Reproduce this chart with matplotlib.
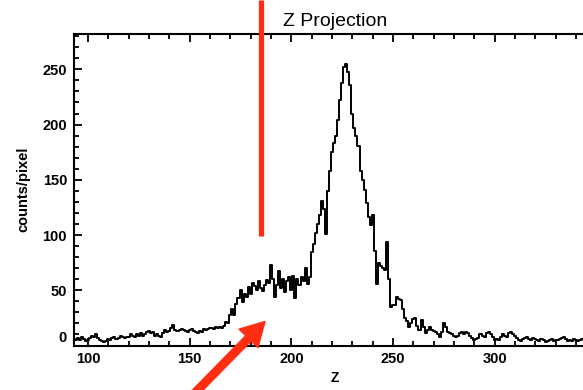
import numpy as np
import matplotlib
matplotlib.use("Agg")
import matplotlib.pyplot as plt
from matplotlib.lines import Line2D

# counts per pixel, one bin per unit of Z starting at z = 93
z_start = 93
counts = [
    6, 5, 7, 5, 8, 6, 4, 5,                      # 93-100
    7, 9, 8, 10, 7, 5, 4, 3, 4, 6,               # 101-110
    5, 7, 8, 6, 7, 9, 8, 7, 8, 8,
    10, 9, 8, 10, 9, 11, 9, 10, 12, 13,
    11, 12, 9, 10, 9, 8, 11, 14, 12, 13,
    16, 19, 14, 13, 14, 15, 14, 13, 12, 14,      # 141-150
    15, 13, 12, 11, 13, 12, 15, 14, 15, 16,
    16, 15, 17, 16, 17, 16, 18, 21, 20, 28,
    33, 28, 38, 43, 50, 39, 47, 44, 53, 47,
    57, 54, 50, 58, 52, 49, 55, 59, 57, 73,
    60, 44, 55, 67, 52, 60, 48, 58, 62, 50,      # 191-200
    63, 43, 60, 55, 62, 58, 70, 56, 62, 85,
    92, 102, 110, 118, 131, 124, 101, 140, 158, 175,
    183, 190, 204, 222, 238, 252, 255, 248, 236, 210,
    197, 190, 181, 158, 150, 141, 129, 116, 109, 118,
    86, 56, 75, 72, 70, 68, 94, 60, 35, 37,      # 241-250
    37, 44, 42, 41, 33, 25, 22, 17, 20, 24,
    25, 18, 14, 23, 17, 11, 14, 17, 14, 13,
    12, 10, 8, 12, 20, 17, 12, 11, 10, 9,
    8, 9, 11, 12, 10, 12, 11, 9, 7, 5,
    6, 7, 10, 9, 8, 11, 12, 10, 8, 5,            # 291-300
    6, 5, 8, 10, 9, 8, 11, 12, 10, 9,
    7, 5, 4, 6, 7, 8, 6, 5, 7, 6,
    5, 4, 6, 5, 3, 4, 5, 6, 4, 5,
    5, 6, 7, 8, 6, 4, 5, 4, 6, 5,
    4, 5, 6, 5, 5,                               # 341-345
]
z = np.arange(z_start, z_start + len(counts))

xticks = [100, 150, 200, 250, 300]
yticks = [0, 50, 100, 150, 200, 250]

plt.rcParams['font.family'] = ['Liberation Sans', 'DejaVu Sans']
red = '#ff2e12'

fig = plt.figure(figsize=(5.83, 3.90), dpi=100)
W, H = 583, 390
# axes runs a little past the right edge, like the scanned page
ax = fig.add_axes([74 / W, 1 - 345.5 / H, (596 - 74) / W, (345.5 - 34) / H])

ax.plot(z, counts, drawstyle='steps-mid', color='black', lw=1.4)

ax.set_xlim(93.1, 349.8)
ax.set_ylim(0, 282)
ax.set_xticks(xticks)
ax.set_yticks(yticks)
ax.set_xticks(np.arange(100, 350, 10), minor=True)
ax.set_yticks(np.arange(0, 290, 10), minor=True)
ax.tick_params(which='both', direction='in', top=True, right=True,
               width=1.3, labelsize=10.5, pad=5)
ax.tick_params(which='major', length=6)
ax.tick_params(which='minor', length=3.5)
for lab in ax.get_xticklabels() + ax.get_yticklabels():
    lab.set_fontweight('bold')
ax.get_yticklabels()[0].set_verticalalignment('bottom')
for sp in ax.spines.values():
    sp.set_linewidth(1.5)

ax.set_title('Z Projection', fontsize=14, pad=6)
ax.set_xlabel('Z', fontsize=10, fontweight='bold', labelpad=3)
ax.set_ylabel('counts/pixel', fontsize=10.5, fontweight='bold', labelpad=9)

# red marker line from the top of the page
fig.add_artist(Line2D([261 / W, 261 / W], [1.0, 1 - 236 / H],
                      transform=fig.transFigure, color=red, lw=3.8,
                      solid_capstyle='butt'))

# red arrow coming up from the bottom
ax.annotate('', xy=(265, H - 321.5), xycoords='figure pixels',
            xytext=(188, -10), textcoords='figure pixels',
            arrowprops=dict(arrowstyle='simple,head_length=17,head_width=19,tail_width=5.5',
                            mutation_scale=1, color=red, shrinkA=0, shrinkB=0),
            annotation_clip=False)

fig.savefig('out.png', dpi=100)
